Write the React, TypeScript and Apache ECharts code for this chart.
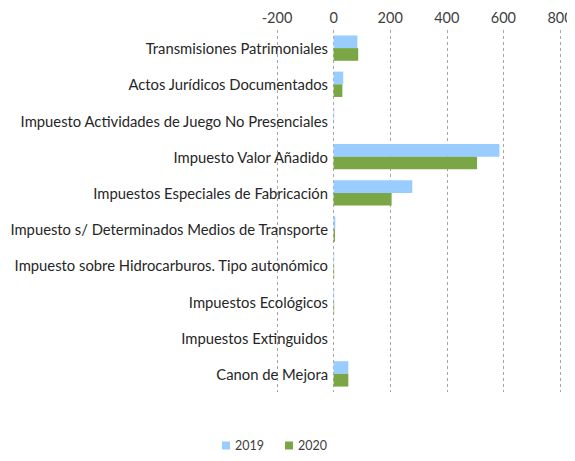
import React, { useEffect, useRef } from "react";
import * as echarts from "echarts";

const categories = [
  "Transmisiones Patrimoniales",
  "Actos Jurídicos Documentados",
  "Impuesto Actividades de Juego No Presenciales",
  "Impuesto Valor Añadido",
  "Impuestos Especiales de Fabricación",
  "Impuesto s/ Determinados Medios de Transporte",
  "Impuesto sobre Hidrocarburos. Tipo autonómico",
  "Impuestos Ecológicos",
  "Impuestos Extinguidos",
  "Canon de Mejora",
];
const values2019 = [84, 34, 2, 586, 278, 6, 2, 2, 0, 52];
const values2020 = [87, 31, 0, 507, 205, 5, 2, 2, 0, 52];
const seriesNames = ["2019", "2020"];

const FONT = "Lato, 'Open Sans', sans-serif";

export default function App() {
  const ref = useRef<HTMLDivElement>(null);
  useEffect(() => {
    const chart = echarts.init(ref.current!, null, { renderer: "svg" });
    chart.setOption({
      animation: false,
      textStyle: { fontFamily: FONT },
      legend: {
        bottom: 1,
        left: 214,
        padding: 0,
        itemWidth: 8,
        itemHeight: 8,
        itemGap: 21,
        icon: "rect",
        textStyle: { fontSize: 12.5, color: "#404040", fontFamily: FONT },
        data: seriesNames,
      },
      grid: {
        left: 269,
        right: 15,
        top: 22,
        bottom: 61,
        containLabel: false,
        outerBoundsMode: "none",
      },
      xAxis: {
        type: "value",
        position: "top",
        min: -200,
        max: 800,
        interval: 200,
        axisLine: { show: false },
        axisTick: { show: false },
        axisLabel: { fontSize: 14.5, color: "#404040", margin: 5, fontFamily: FONT },
        splitLine: { show: true, lineStyle: { type: [3, 3], color: "#a6a6a6", width: 1 } },
      },
      yAxis: {
        type: "category",
        inverse: true,
        data: categories,
        axisLine: { show: false },
        axisTick: { show: false },
        axisLabel: { fontSize: 14.8, color: "#262626", margin: -51, fontFamily: FONT },
      },
      series: [
        {
          name: seriesNames[0],
          type: "bar",
          data: values2019,
          itemStyle: { color: "#99ccff" },
          barGap: "0%",
          barCategoryGap: "30%",
        },
        {
          name: seriesNames[1],
          type: "bar",
          data: values2020,
          itemStyle: { color: "#7aa646" },
          barGap: "0%",
          barCategoryGap: "30%",
        },
      ],
    });
    return () => chart.dispose();
  }, []);
  return <div ref={ref} style={{ width: 567, height: 445 }} />;
}
